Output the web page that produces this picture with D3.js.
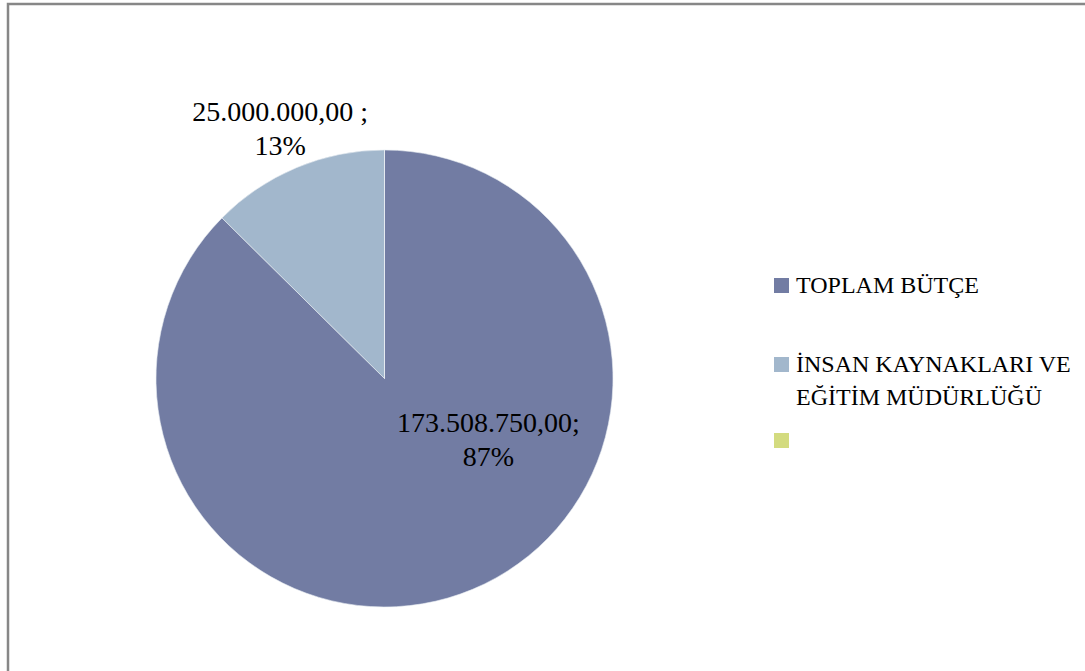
<!DOCTYPE html>
<html lang="tr">
<head>
<meta charset="UTF-8">
<title>Bütçe</title>
<script src="https://d3js.org/d3.v7.min.js"></script>
<style>
  body { margin: 0; background: #fff; }
  text { font-family: "Liberation Serif", "DejaVu Serif", serif; fill: #000; }
</style>
</head>
<body>
<script>
// veriler
var categories = ["TOPLAM BÜTÇE", "İNSAN KAYNAKLARI VE EĞİTİM MÜDÜRLÜĞÜ", ""];
var values = [173508750, 25000000, 0];
var valueLabels = ["173.508.750,00;", "25.000.000,00 ;", ""];
var percentLabels = ["87%", "13%", ""];
var legendLines = [["TOPLAM BÜTÇE"], ["İNSAN KAYNAKLARI VE", "EĞİTİM MÜDÜRLÜĞÜ"], []];
var colors = ["#727ca3", "#a2b7cc", "#d3db7f"];

var width = 1085, height = 671;
var cx = 384.5, cy = 378.5, radius = 228.5;

var svg = d3.select("body").append("svg")
    .attr("width", width)
    .attr("height", height);

// çerçeve
svg.append("path")
    .attr("d", "M8," + height + "V4H" + width)
    .attr("fill", "none")
    .attr("stroke", "#878787")
    .attr("stroke-width", 2.5);

var pie = d3.pie().sort(null).value(function (d) { return d; });
var arc = d3.arc().innerRadius(0).outerRadius(radius);
var color = d3.scaleOrdinal().domain(categories).range(colors);

var g = svg.append("g").attr("transform", "translate(" + cx + "," + cy + ")");
var arcs = pie(values);

g.selectAll("path")
    .data(arcs)
    .enter().append("path")
    .attr("d", arc)
    .attr("fill", function (d, i) { return color(categories[i]); })
    .attr("stroke", "#e8ecf2")
    .attr("stroke-width", 0.6);

// etiket konumları
var outerLabelArc = d3.arc().innerRadius(radius * 2.37).outerRadius(0);
var labelPos = [
    [104, 61],
    outerLabelArc.centroid(arcs[1])
];
var fs = 28, lh = 34;

[0, 1].forEach(function (i) {
    var t = g.append("text")
        .attr("text-anchor", "middle")
        .attr("font-size", fs + "px")
        .attr("transform", "translate(" + labelPos[i][0] + "," + labelPos[i][1] + ")");
    t.append("tspan").attr("x", 0).attr("y", -lh / 2 + 9).text(valueLabels[i]);
    t.append("tspan").attr("x", 0).attr("y", lh / 2 + 9).text(percentLabels[i]);
});

// lejant
var legendX = 774, legendY = [278, 357, 433];
var leg = svg.selectAll(".leg")
    .data(categories)
    .enter().append("g")
    .attr("class", "leg")
    .attr("transform", function (d, i) { return "translate(" + legendX + "," + legendY[i] + ")"; });

leg.append("rect")
    .attr("width", 15)
    .attr("height", 15)
    .attr("fill", function (d) { return color(d); });

leg.each(function (d, i) {
    var t = d3.select(this).append("text")
        .attr("x", 22)
        .attr("font-size", "24px");
    legendLines[i].forEach(function (line, j) {
        t.append("tspan").attr("x", 22).attr("y", 15 + j * 33).text(line);
    });
});
</script>
</body>
</html>
